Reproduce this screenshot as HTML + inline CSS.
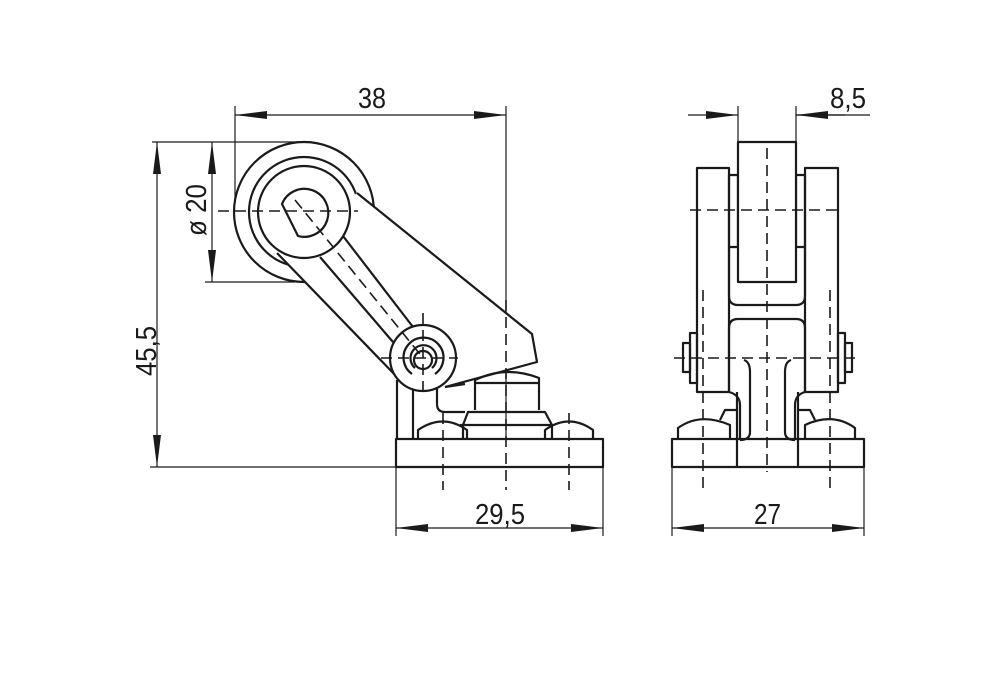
<!DOCTYPE html>
<html><head><meta charset="utf-8"><style>
html,body{margin:0;padding:0;background:#fff;}
svg{display:block;}
text{font-family:"Liberation Sans",sans-serif;font-size:29px;fill:#1a1a1a;}
</style></head><body>
<svg width="1000" height="697" viewBox="0 0 1000 697" xmlns="http://www.w3.org/2000/svg">
<defs>
<marker id="a" viewBox="0 0 32 8" refX="32" refY="4" markerWidth="32" markerHeight="8" markerUnits="userSpaceOnUse" orient="auto-start-reverse"><path d="M0,0 L32,4 L0,8 z" fill="#1a1a1a"/></marker>
</defs>
<g stroke="#1a1a1a" fill="none" stroke-width="1.2">
<line x1="235" y1="106" x2="235" y2="205"/>
<line x1="506" y1="106" x2="506" y2="440"/>
<line x1="235" y1="115" x2="506" y2="115" marker-start="url(#a)" marker-end="url(#a)"/>
<line x1="152" y1="142" x2="310" y2="142"/>
<line x1="205" y1="282" x2="295" y2="282"/>
<line x1="212" y1="142" x2="212" y2="282" marker-start="url(#a)" marker-end="url(#a)"/>
<line x1="150" y1="467" x2="396" y2="467"/>
<line x1="157" y1="142" x2="157" y2="467" marker-start="url(#a)" marker-end="url(#a)"/>
<line x1="396" y1="467" x2="396" y2="536"/>
<line x1="603" y1="467" x2="603" y2="536"/>
<line x1="396" y1="528" x2="603" y2="528" marker-start="url(#a)" marker-end="url(#a)"/>
<line x1="672" y1="467" x2="672" y2="536"/>
<line x1="864" y1="467" x2="864" y2="536"/>
<line x1="672" y1="528" x2="864" y2="528" marker-start="url(#a)" marker-end="url(#a)"/>
<line x1="738" y1="106" x2="738" y2="142"/>
<line x1="796" y1="106" x2="796" y2="142"/>
<line x1="688" y1="115" x2="738" y2="115" marker-end="url(#a)"/>
<line x1="796" y1="115" x2="870" y2="115"/>
<line x1="845" y1="115" x2="796" y2="115" marker-end="url(#a)"/>
</g>
<text x="358" y="108" textLength="28" lengthAdjust="spacingAndGlyphs">38</text>
<text x="475" y="524" textLength="50" lengthAdjust="spacingAndGlyphs">29,5</text>
<text x="754" y="524" textLength="27" lengthAdjust="spacingAndGlyphs">27</text>
<text x="830" y="108" textLength="36" lengthAdjust="spacingAndGlyphs">8,5</text>
<text transform="translate(206,236) rotate(-90)" textLength="52" lengthAdjust="spacingAndGlyphs">ø 20</text>
<text transform="translate(156,376) rotate(-90)" textLength="50" lengthAdjust="spacingAndGlyphs">45,5</text>

<g stroke="#1a1a1a" fill="none" stroke-width="2.2" stroke-linejoin="round">
<!-- LEFT VIEW -->
<circle cx="304" cy="212" r="70" fill="#fff"/>
<circle cx="304" cy="212" r="55" fill="#fff"/>
<!-- housing (in front of roller) -->
<path d="M357,193 L532,334 L537,362 L445,387 L423,391 L397,377 L277,253 Z" fill="#fff" stroke="none"/>
<path d="M357,193 L532,334 L537,362 L445,387"/>
<line x1="277" y1="253" x2="397" y2="377"/>
<!-- arm link -->
<circle cx="304" cy="212" r="46" fill="#fff"/>
<path d="M282,204 A24,24 0 1 1 298,236 Z" fill="#fff"/>
<line x1="320" y1="257" x2="393" y2="342"/>
<line x1="343" y1="236" x2="413" y2="327"/>
<!-- pivot -->
<circle cx="423" cy="358" r="33" fill="#fff"/>
<path d="M412,374 A20,20 0 1 1 435,374" />
<path d="M415,368 A13,13 0 1 1 432,368" />
<circle cx="423" cy="360" r="9"/>
<!-- bracket -->
<line x1="397" y1="380" x2="397" y2="440"/>
<line x1="413" y1="390" x2="413" y2="440"/>
<path d="M437,387 L437,404 Q437,412 445,412 L465,412"/>
<line x1="445" y1="387" x2="465" y2="384"/>
<!-- nut -->
<path d="M475,410 L475,380 Q506,365 539,378 L539,410"/>
<line x1="475" y1="383" x2="539" y2="383"/>
<path d="M463,438 L463,425 L468,412 L545,412 L552,425 L552,438"/>
<line x1="460" y1="425" x2="553" y2="425"/>
<path d="M418,439 L418,430 Q443,413 467,430 L467,439"/>
<path d="M545,439 L545,430 Q569,413 593,430 L593,439"/>
<rect x="396" y="439" width="207" height="28" fill="#fff"/>

<!-- RIGHT VIEW -->
<rect x="697" y="168" width="32" height="224"/>
<rect x="805" y="168" width="33" height="224"/>
<rect x="729" y="175" width="9" height="72"/>
<rect x="796" y="175" width="9" height="72"/>
<rect x="738" y="142" width="58" height="140" fill="#fff"/>
<path d="M729,247 L729,296 Q729,305 738,305 L796,305 Q805,305 805,296 L805,247"/>
<path d="M729,392 L729,328 Q729,319 738,319 L796,319 Q805,319 805,328 L805,392"/>
<path d="M737,392 L737,439 M798,392 L798,439"/>
<path d="M744,360 Q750,362 750,372 L750,432 Q750,440 740,440"/>
<path d="M791,360 Q785,362 785,372 L785,432 Q785,440 795,440"/>
<path d="M729,392 Q740,395 740,405 L740,439"/>
<path d="M805,392 Q795,395 795,405 L795,439"/>
<rect x="690" y="333" width="7" height="50"/>
<rect x="683" y="343" width="7" height="29"/>
<rect x="838" y="333" width="7" height="50"/>
<rect x="845" y="343" width="7" height="29"/>
<path d="M678,439 L678,428 Q700,412 730,425 L730,439"/>
<path d="M855,439 L855,428 Q833,412 805,425 L805,439"/>
<path d="M720,420 L725,410 L737,410"/>
<path d="M815,420 L810,410 L798,410"/>
<rect x="672" y="439" width="192" height="28"/>
<line x1="737" y1="439" x2="737" y2="467"/>
<line x1="798" y1="439" x2="798" y2="467"/>
</g>

<g stroke="#1a1a1a" fill="none" stroke-width="1.6" stroke-dasharray="11,6">
<line x1="218" y1="211" x2="358" y2="211"/>
<line x1="295" y1="200" x2="423" y2="358"/>
<line x1="381" y1="358" x2="458" y2="358"/>
<line x1="423" y1="313" x2="423" y2="392"/>
<line x1="443" y1="413" x2="443" y2="490"/>
<line x1="506" y1="300" x2="506" y2="490"/>
<line x1="569" y1="413" x2="569" y2="490"/>
<line x1="767" y1="148" x2="767" y2="472"/>
<line x1="690" y1="210" x2="840" y2="210"/>
<line x1="674" y1="358" x2="857" y2="358"/>
<line x1="703" y1="290" x2="703" y2="490"/>
<line x1="830" y1="290" x2="830" y2="490"/>
</g>
</svg>
</body></html>
